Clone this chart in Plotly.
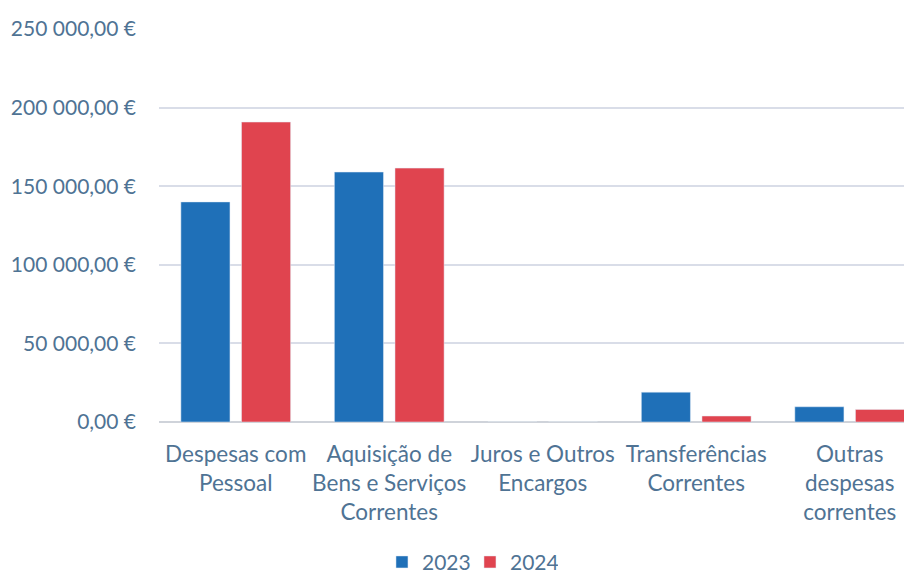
import plotly.graph_objects as go

categories = ["Despesas com<br>Pessoal", "Aquisição de<br>Bens e Serviços<br>Correntes",
              "Juros e Outros<br>Encargos", "Transferências<br>Correntes",
              "Outras<br>despesas<br>correntes"]
values_2023 = [140000, 159000, 0, 19000, 9700]
values_2024 = [190800, 161500, 0, 3800, 8000]
tick_vals = [0, 50000, 100000, 150000, 200000, 250000]
tick_text = ["0,00 €", "50 000,00 €", "100 000,00 €", "150 000,00 €", "200 000,00 €", "250 000,00 €"]

font_fam = "Lato, Open Sans, sans-serif"
txt_col = "#4f7394"

fig = go.Figure()
fig.add_trace(go.Bar(name="2023", x=categories, y=values_2023, marker_color="#1f70b8"))
fig.add_trace(go.Bar(name="2024", x=categories, y=values_2024, marker_color="#e0444f"))

fig.update_layout(
    width=912, height=574,
    margin=dict(l=151, r=0, t=21, b=160, autoexpand=False),
    paper_bgcolor="white", plot_bgcolor="white",
    barmode="group", bargap=0.21, bargroupgap=0.19,
    font=dict(family=font_fam, size=21, color=txt_col),
    legend=dict(orientation="h", x=0.293, xanchor="left", y=-0.357, yanchor="middle",
                font=dict(size=21, color=txt_col), itemwidth=30, traceorder="normal",
                entrywidth=43, entrywidthmode="pixels"),
    showlegend=True,
)
fig.update_yaxes(range=[0, 250000], tickvals=tick_vals, ticktext=tick_text,
                 showgrid=True, gridcolor="#d9dde8", gridwidth=2,
                 zeroline=True, zerolinecolor="#cfd3da", zerolinewidth=2,
                 ticks="", tickfont=dict(size=21, color=txt_col), ticklabelstandoff=22,
                 automargin=False)
fig.update_xaxes(showline=False, ticks="", tickfont=dict(size=22.5, color=txt_col), tickangle=0,
                 range=[-0.5, 4.458], ticklabelstandoff=16, automargin=False)

fig.write_html("out.html")
